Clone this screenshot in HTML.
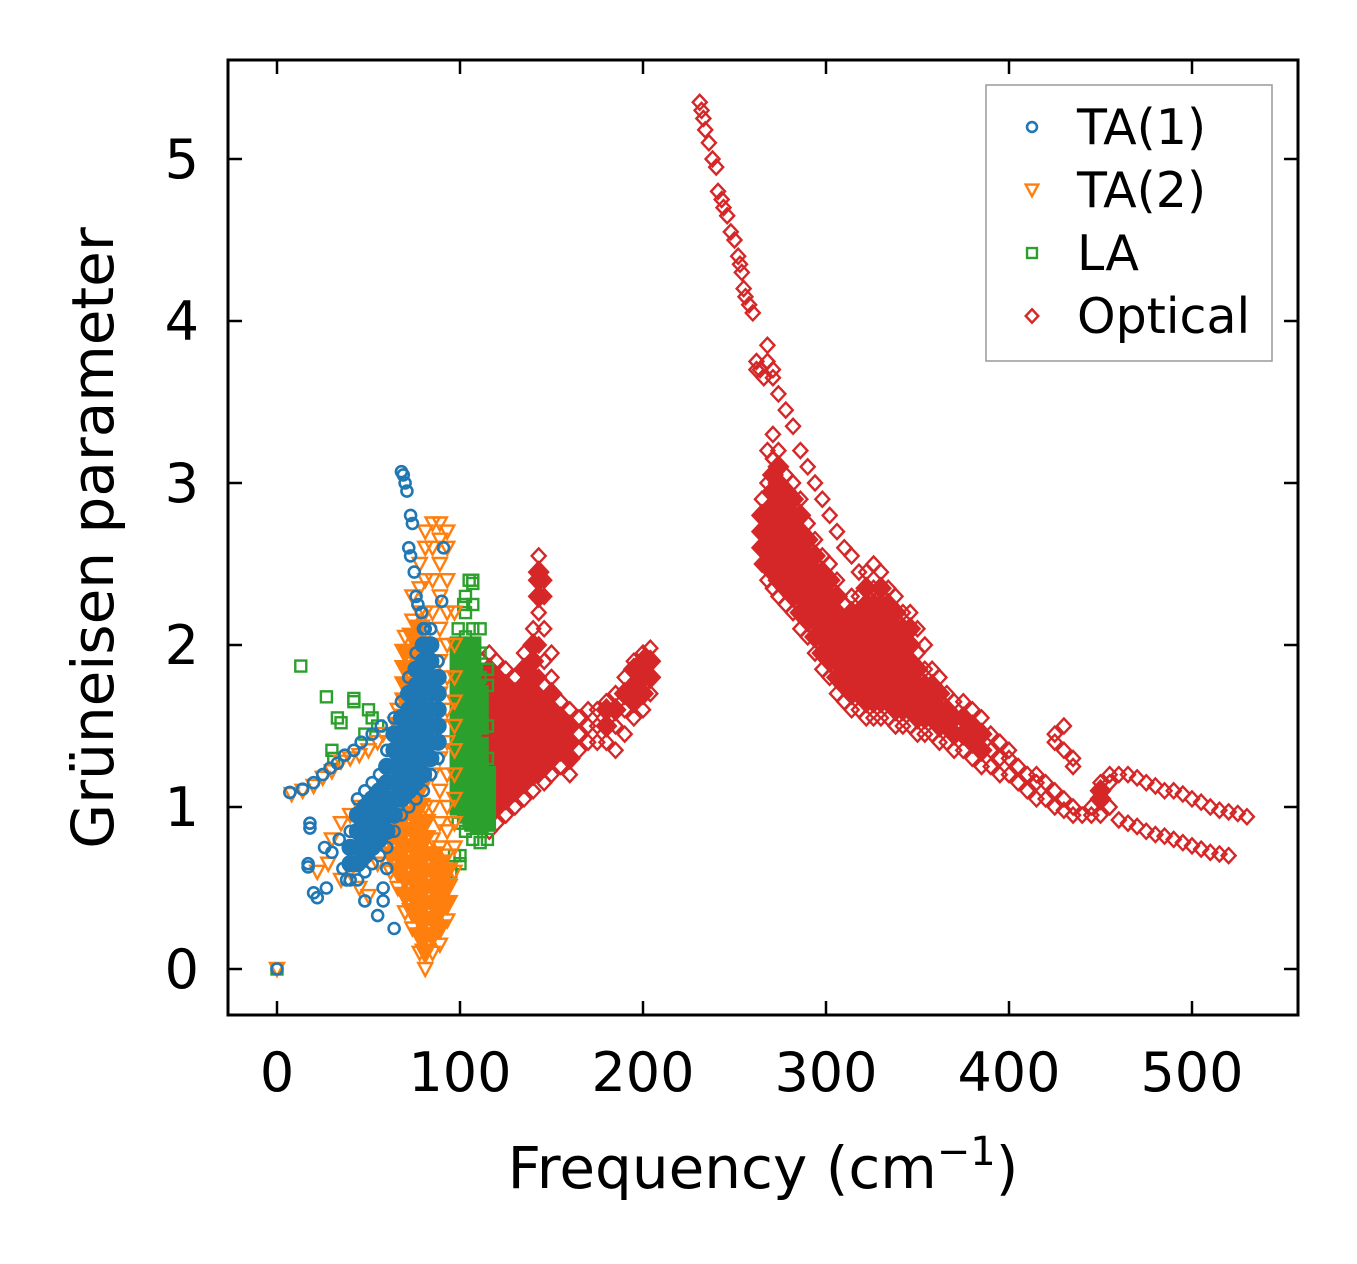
<!DOCTYPE html>
<html><head><meta charset="utf-8"><style>
html,body{margin:0;padding:0;background:#fff}
svg{display:block}
text{font-family:"DejaVu Sans","Liberation Sans",sans-serif;fill:#000}
</style></head><body>
<svg id="chart" width="1357" height="1264" viewBox="0 0 1357 1264" xmlns="http://www.w3.org/2000/svg">
<rect width="1357" height="1264" fill="#fff"/>
<g id="marks"></g>
<g id="axes"></g>
<text x="763" y="1188" font-size="58" text-anchor="middle">Frequency (cm<tspan dy="-23" font-size="40">−1</tspan><tspan dy="23">)</tspan></text>
<text transform="translate(113,538) rotate(-90)" font-size="58" text-anchor="middle">Grüneisen parameter</text>
<g>
<rect x="986" y="85" width="286" height="276" fill="#fff" stroke="#999" stroke-width="1.5"/>
<g id="legend-items"></g>
</g>
</svg>
<script>
const xTicks=[0,100,200,300,400,500];
const yTicks=[0,1,2,3,4,5];
const seriesNames=["TA(1)","TA(2)","LA","Optical"];
// Columns: [x, y values...]
const ta1Cols=[[40,0.55,0.65,0.75,0.85],[44,0.55,0.65,0.75,0.85,0.95,1.05],[48,0.6,0.7,0.8,0.9,1.0,1.1],[52,0.65,0.75,0.85,0.95,1.05,1.15],[56,0.7,0.8,0.9,1.0,1.1,1.2],[60,0.75,0.85,0.95,1.05,1.15,1.25,1.35],[64,0.85,0.95,1.05,1.15,1.25,1.35,1.45,1.55],[68,0.95,1.05,1.15,1.25,1.35,1.45,1.55,1.65],[72,1.0,1.1,1.2,1.3,1.4,1.5,1.6,1.7,1.8],[76,1.05,1.15,1.25,1.35,1.45,1.55,1.65,1.75,1.85,1.95],[80,1.1,1.2,1.3,1.4,1.5,1.6,1.7,1.8,1.9,2.0,2.1],[84,1.2,1.3,1.4,1.5,1.6,1.7,1.8,1.9,2.0,2.1],[88,1.3,1.4,1.5,1.6,1.7,1.8,1.9]];
const ta1Pts=[[68,3.07],[69,3.05],[70,3.0],[71,2.95],[73,2.8],[74,2.75],[72,2.6],[73,2.55],[75,2.45],[76,2.3],[77,2.25],[79,2.2],[81,2.1],[91,2.6],[90,2.27],[30,0.72],[26,0.75],[18,0.9],[18,0.87],[34,0.8],[36,0.62],[38,0.55],[27,0.5],[20,0.47],[22,0.44],[17,0.63],[17,0.65],[48,0.42],[55,0.33],[58,0.42],[58,0.5],[64,0.25],[60,0.62],[0,0],[7,1.09],[14,1.11],[20,1.15],[25,1.2],[29,1.24],[33,1.27],[37,1.32],[42,1.35],[46,1.4],[52,1.45],[57,1.5]];
const ta2Cols=[[62,0.6,0.7,0.8,0.9,1.0,1.1],[66,0.5,0.6,0.7,0.8,0.9,1.0,1.1,1.2,1.3,1.4,1.5,1.6],[70,0.35,0.45,0.55,0.65,0.75,0.85,0.95,1.05,1.15,1.25,1.35,1.45,1.55,1.65,1.75,1.85,1.95,2.05],[74,0.25,0.35,0.45,0.55,0.65,0.75,0.85,0.95,1.05,1.15,1.25,1.35,1.45,1.55,1.65,1.75,1.85,1.95,2.05,2.15,2.3],[78,0.1,0.2,0.3,0.4,0.5,0.6,0.7,0.8,0.9,1.0,1.1,1.2,1.3,1.4,1.5,1.6,1.7,1.8,1.9,2.0,2.1,2.2,2.35,2.5],[81,0.0,0.1,0.2,0.3,0.4,0.5,0.6,0.7,0.8,0.9,1.0,1.2,1.4,1.6,1.8,2.0,2.2,2.4,2.6,2.7],[85,0.1,0.2,0.3,0.4,0.5,0.6,0.7,0.8,1.0,1.2,1.4,1.6,1.8,2.0,2.2,2.4,2.6,2.75],[89,0.15,0.25,0.35,0.45,0.55,0.65,0.75,0.9,1.1,1.3,1.5,1.7,1.9,2.1,2.3,2.5,2.65,2.75],[93,0.3,0.4,0.5,0.6,0.7,0.85,1.0,1.2,1.4,1.6,1.8,2.0,2.2,2.4,2.6,2.7],[97,0.6,0.75,0.9,1.05,1.2,1.35,1.5,1.65,1.8,2.0,2.2]];
const ta2Pts=[[0,0],[8,1.08],[14,1.1],[20,1.13],[25,1.18],[30,1.22],[35,1.28],[40,1.3],[45,1.32],[50,1.35],[55,1.4],[58,1.45],[30,0.8],[35,0.9],[40,0.95],[45,1.0],[50,0.7],[55,0.65],[40,0.6],[35,0.55],[28,0.65],[22,0.6],[45,0.5],[50,0.45]];
const laCols=[[99,0.9,1.0,1.1,1.2,1.3,1.4,1.5,1.6,1.7,1.8,1.9,2.0,2.1],[103,0.85,0.95,1.05,1.15,1.25,1.35,1.45,1.55,1.65,1.75,1.85,1.95,2.05,2.2,2.3],[107,0.8,0.9,1.0,1.1,1.2,1.3,1.4,1.5,1.6,1.7,1.8,1.9,2.0,2.1,2.25,2.4],[111,0.78,0.88,0.98,1.08,1.18,1.28,1.38,1.5,1.6,1.7,1.8,1.95,2.1],[115,0.8,0.9,1.0,1.1,1.2,1.3,1.5,1.75,1.85]];
const laPts=[[13,1.87],[27,1.68],[33,1.55],[35,1.52],[42,1.67],[42,1.65],[30,1.35],[31,1.3],[50,1.6],[52,1.55],[55,1.5],[48,1.45],[95,0.6],[97,0.7],[100,0.7],[100,0.65],[110,1.75],[115,1.85],[102,2.25],[105,2.4],[107,2.38],[0,0]];
const optCols=[[265,2.5,2.6,2.7,2.8,2.9],[268,2.4,2.5,2.6,2.7,2.8,3.0,3.2,3.75,3.85],[271,2.35,2.45,2.55,2.65,2.75,2.85,2.95,3.05,3.15,3.3,3.65,3.7],[274,2.3,2.4,2.5,2.6,2.7,2.8,2.9,3.0,3.1,3.2,3.55],[278,2.25,2.35,2.45,2.55,2.65,2.75,2.85,2.95,3.05,3.45],[282,2.2,2.3,2.4,2.5,2.6,2.7,2.8,2.9,3.0,3.35],[286,2.1,2.2,2.3,2.4,2.5,2.6,2.7,2.8,2.9,3.2],[290,2.05,2.15,2.25,2.35,2.45,2.55,2.65,2.75,3.1],[294,1.95,2.05,2.15,2.25,2.35,2.45,2.55,2.65,3.0],[298,1.85,1.95,2.05,2.15,2.25,2.35,2.45,2.55,2.9],[302,1.8,1.9,2.0,2.1,2.2,2.3,2.4,2.5,2.8],[306,1.7,1.8,1.9,2.0,2.1,2.2,2.3,2.4,2.7],[310,1.65,1.75,1.85,1.95,2.05,2.15,2.25,2.6],[314,1.6,1.7,1.8,1.9,2.0,2.1,2.2,2.3,2.55],[318,1.6,1.7,1.8,1.9,2.0,2.1,2.2,2.3,2.45],[322,1.55,1.65,1.75,1.85,1.95,2.05,2.15,2.25,2.35,2.45],[326,1.55,1.65,1.75,1.85,1.95,2.05,2.15,2.25,2.35,2.5],[330,1.55,1.65,1.75,1.85,1.95,2.05,2.15,2.25,2.35,2.45],[334,1.55,1.65,1.75,1.85,1.95,2.05,2.15,2.25,2.35],[338,1.5,1.6,1.7,1.8,1.9,2.0,2.1,2.2,2.3],[342,1.5,1.6,1.7,1.8,1.9,2.0,2.1,2.2],[346,1.5,1.6,1.7,1.8,1.9,2.0,2.1,2.2],[350,1.45,1.55,1.65,1.75,1.85,1.95,2.1],[354,1.45,1.55,1.65,1.75,1.85,2.0],[358,1.45,1.55,1.65,1.75,1.85],[362,1.4,1.5,1.6,1.7,1.8],[366,1.4,1.5,1.6,1.7],[370,1.35,1.45,1.55,1.65],[375,1.35,1.45,1.55,1.65],[380,1.3,1.4,1.5,1.6],[385,1.25,1.35,1.45,1.55],[390,1.25,1.35,1.45],[395,1.2,1.3,1.4],[400,1.2,1.3,1.35],[405,1.15,1.25],[410,1.1,1.2],[415,1.05,1.15,1.2],[420,1.05,1.15],[425,1.0,1.1,1.4,1.45],[430,0.98,1.05,1.35,1.5],[435,0.95,1.0,1.25,1.3],[440,0.95],[445,0.95,1.0],[450,0.95,1.05,1.1,1.15],[455,1.0,1.15,1.2],[460,0.92,1.2],[465,0.9,1.2],[470,0.88,1.18],[475,0.85,1.15],[480,0.83,1.13],[485,0.82,1.1],[490,0.8,1.1],[495,0.78,1.08],[500,0.76,1.05],[505,0.74,1.03],[510,0.72,1.0],[515,0.71,0.98],[520,0.7,0.97],[525,0.96],[530,0.94],
[112,0.9,1.0,1.1,1.2,1.3,1.4,1.5,1.6,1.7,1.8,1.9],[116,0.85,0.95,1.05,1.15,1.25,1.35,1.45,1.55,1.65,1.75,1.85,1.95],[120,0.9,1.0,1.1,1.2,1.3,1.4,1.5,1.6,1.7,1.8,1.9],[125,0.95,1.05,1.15,1.25,1.35,1.45,1.55,1.65,1.75,1.85],[130,1.0,1.1,1.2,1.3,1.4,1.5,1.6,1.7,1.8],[135,1.05,1.15,1.25,1.35,1.45,1.55,1.65,1.75,1.85,1.95],[140,1.1,1.2,1.3,1.4,1.5,1.6,1.7,1.8,1.9,2.0,2.1],[143,1.2,1.5,1.8,2.0,2.2,2.3,2.4,2.45,2.55],[146,1.15,1.25,1.35,1.45,1.55,1.65,1.75,1.9,2.1,2.3,2.4],[150,1.2,1.3,1.4,1.5,1.6,1.7,1.8,1.95],[155,1.25,1.35,1.45,1.55,1.65],[160,1.2,1.3,1.4,1.5,1.6],[165,1.35,1.45,1.55],[170,1.4,1.5,1.6],[175,1.4,1.5,1.6],[180,1.4,1.5,1.6,1.65],[185,1.35,1.5,1.6,1.7],[190,1.45,1.6,1.7,1.8],[195,1.55,1.65,1.75,1.85,1.9],[200,1.6,1.7,1.8,1.9,1.95],[204,1.7,1.8,1.9,1.98]];
const optPts=[[231,5.35],[232,5.3],[233,5.25],[234,5.18],[236,5.1],[238,5.0],[240,4.95],[241,4.8],[243,4.75],[244,4.7],[246,4.65],[248,4.55],[250,4.5],[252,4.4],[253,4.35],[254,4.3],[255,4.2],[256,4.15],[258,4.1],[260,4.05],[262,3.7],[262,3.75],[264,3.7],[266,3.65]];

const X0=228,X1=1298,Y0=60,Y1=1015;
function sx(v){return 277+v*1.83;}
function sy(v){return 969-v*162;}
const NS="http://www.w3.org/2000/svg";
function mk(tag,attrs,parent){const e=document.createElementNS(NS,tag);for(const k in attrs)e.setAttribute(k,attrs[k]);parent.appendChild(e);return e;}
// returns [x,y,interior]
function flat(cols,pts){const out=[];cols.forEach(c=>{const n=c.length-1;for(let i=1;i<c.length;i++){const interior=n>=4&&i>1&&i<n&&Math.abs(c[i+1]-c[i])<0.13&&Math.abs(c[i]-c[i-1])<0.13;out.push([c[0],c[i],interior]);}});pts.forEach(p=>out.push([p[0],p[1],false]));return out;}
function marker(kind,cx,cy,color,parent,filled,scale){
  const f=filled?color:'none';const k=scale||1;
  let e;
  if(kind==='o'){e=mk('circle',{cx:cx,cy:cy,r:5.5*k,fill:f,stroke:color,'stroke-width':2.6},parent);}
  else if(kind==='v'){e=mk('polygon',{points:`${cx-7*k},${cy-6*k} ${cx+7*k},${cy-6*k} ${cx},${cy+7*k}`,fill:f,stroke:color,'stroke-width':2.4},parent);}
  else if(kind==='s'){e=mk('rect',{x:cx-5.5*k,y:cy-5.5*k,width:11*k,height:11*k,fill:f,stroke:color,'stroke-width':2.4},parent);}
  else {e=mk('polygon',{points:`${cx},${cy-7.5*k} ${cx+7*k},${cy} ${cx},${cy+7.5*k} ${cx-7*k},${cy}`,fill:f,stroke:color,'stroke-width':2.4},parent);}
  return e;
}
const marks=document.getElementById('marks');
const series=[
 {name:'optical',kind:'d',color:'#d62728',data:flat(optCols,optPts)},
 {name:'la',kind:'s',color:'#2ca02c',data:flat(laCols,laPts)},
 {name:'ta2',kind:'v',color:'#ff7f0e',data:flat(ta2Cols,ta2Pts)},
 {name:'ta1',kind:'o',color:'#1f77b4',data:flat(ta1Cols,ta1Pts)}];
series.forEach(s=>{
  const g=mk('g',{},marks);
  
  
  s.data.forEach(p=>{
    const m=marker(s.kind,sx(p[0]),sy(p[1]),s.color,g,p[2],p[2]?1.35:1);
    
    
  });
});
const ax=document.getElementById('axes');
const frame=mk('rect',{x:X0,y:Y0,width:X1-X0,height:Y1-Y0,fill:'none',stroke:'#000','stroke-width':3},ax);


xTicks.forEach(t=>{
  const x=sx(t);
  mk('line',{x1:x,x2:x,y1:Y1,y2:Y1-14,stroke:'#000','stroke-width':2.5},ax);
  mk('line',{x1:x,x2:x,y1:Y0,y2:Y0+14,stroke:'#000','stroke-width':2.5},ax);
  const tx=mk('text',{x:x,y:1091,'font-size':54,'text-anchor':'middle'},ax);
  tx.textContent=t;
  
  
});
yTicks.forEach(t=>{
  const y=sy(t);
  mk('line',{x1:X0,x2:X0+14,y1:y,y2:y,stroke:'#000','stroke-width':2.5},ax);
  mk('line',{x1:X1,x2:X1-14,y1:y,y2:y,stroke:'#000','stroke-width':2.5},ax);
  const ty=mk('text',{x:199,y:y+19,'font-size':54,'text-anchor':'end'},ax);
  ty.textContent=t;
  
  
});
const li=document.getElementById('legend-items');
const lk=['o','v','s','d'],lc=['#1f77b4','#ff7f0e','#2ca02c','#d62728'];
seriesNames.forEach((n,i)=>{
  const y=127+i*63;
  const g=mk('g',{},li);
  
  
  const m=marker(lk[i],1032,y,lc[i],g,false,0.9);
  
  
  const t=mk('text',{x:1077,y:y+17,'font-size':49},g);
  t.textContent=n;
  
  
});
</script>
</body></html>
